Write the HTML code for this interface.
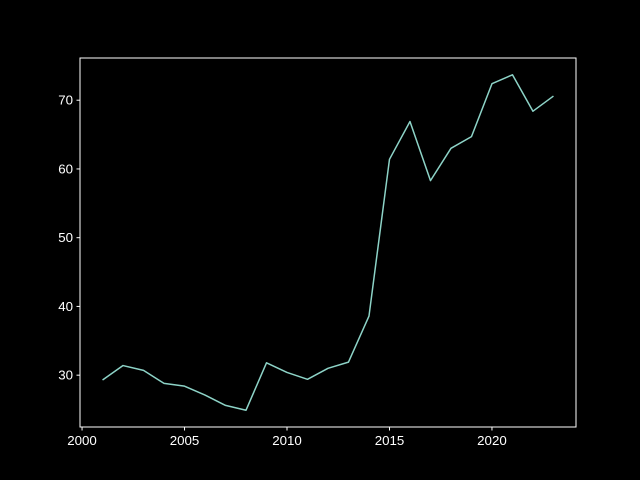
<!DOCTYPE html>
<html><head><meta charset="utf-8"><style>body{margin:0;background:#000}svg{display:block}text{font-family:"Liberation Sans","DejaVu Sans",sans-serif;font-size:13.3px;fill:#fff}</style></head>
<body>
<svg id="chart" width="640" height="480" xmlns="http://www.w3.org/2000/svg">
<rect width="640" height="480" fill="#000"/>
<g id="plot"></g>
</svg>
<script>
const years = [2001,2002,2003,2004,2005,2006,2007,2008,2009,2010,2011,2012,2013,2014,2015,2016,2017,2018,2019,2020,2021,2022,2023];
const values = [29.3,31.4,30.7,28.8,28.4,27.1,25.6,24.9,31.8,30.4,29.4,31.0,31.9,38.6,61.4,66.9,58.3,63.0,64.7,72.4,73.7,68.4,70.6];
const xTicks = [2000,2005,2010,2015,2020];
const yTicks = [30,40,50,60,70];

const L=80,R=576,T=58,B=427;
const xmin=Math.min(...years),xmax=Math.max(...years),xm=(xmax-xmin)*0.05;
const ymin=Math.min(...values),ymax=Math.max(...values),ym=(ymax-ymin)*0.05;
const x=v=>L+(v-(xmin-xm))/((xmax+xm)-(xmin-xm))*(R-L);
const y=v=>B-(v-(ymin-ym))/((ymax+ym)-(ymin-ym))*(B-T);
const ns="http://www.w3.org/2000/svg";
const g=document.getElementById('plot');
function mk(t,a){const e=document.createElementNS(ns,t);for(const k in a)e.setAttribute(k,a[k]);g.appendChild(e);return e;}

const frame=mk('rect',{x:L,y:T,width:R-L,height:B-T,fill:'none',stroke:'#fff','stroke-width':1});



xTicks.forEach(t=>{
  const tk=mk('line',{x1:x(t),x2:x(t),y1:B,y2:B+3.5,stroke:'#fff'});
  
  
  const tx=mk('text',{x:x(t),y:B+18,'text-anchor':'middle'});
  tx.textContent=t;
  
  
});
yTicks.forEach(t=>{
  const tk=mk('line',{x1:L-3.5,x2:L,y1:y(t),y2:y(t),stroke:'#fff'});
  
  
  const tx=mk('text',{x:L-7,y:y(t)+4.5,'text-anchor':'end'});
  tx.textContent=t;
  
  
});
const pts=years.map((yr,i)=>x(yr)+','+y(values[i])).join(' ');
const line=mk('polyline',{points:pts,fill:'none',stroke:'#8dd3c7','stroke-width':1.5,'stroke-linejoin':'round'});


</script>
</body></html>
